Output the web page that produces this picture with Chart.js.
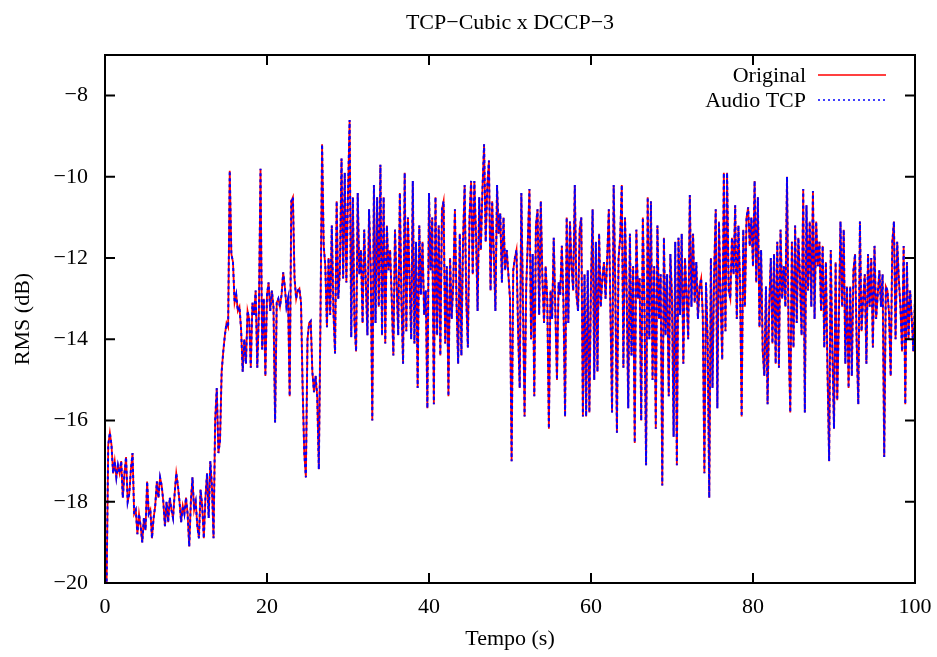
<!DOCTYPE html>
<html>
<head>
<meta charset="utf-8">
<script src="https://cdn.jsdelivr.net/npm/chart.js@4.4.1/dist/chart.umd.min.js"></script>
<style>
html,body{margin:0;padding:0;background:#fff;}
canvas{display:block;}
</style>
</head>
<body>
<canvas id="c" width="937" height="657"></canvas>
<script>
// ---- Data ----
const chartTitle = "TCP\u2212Cubic x DCCP\u22123";
const xTitle = "Tempo (s)";
const yTitle = "RMS (dB)";
const seriesNames = ["Original", "Audio TCP"];
const seriesColors = ["#ff0000", "#0000ff"];
const timeStep = 0.2; // seconds between samples
const xTicks = [0, 20, 40, 60, 80, 100];
const yTicks = [-20, -18, -16, -14, -12, -10, -8];

// RMS values (dB), one sample every 0.2 s, from 0 s to 100 s
const rms = [
  -19.9,-20.0,-16.6,-16.3,-16.6,   -17.3,-17.0,-17.4,-17.1,-17.3,
  -17.0,-17.9,-17.3,-16.9,-18.0,   -17.8,-17.2,-16.8,-18.3,-18.2,
  -18.8,-18.3,-18.6,-19.0,-18.4,   -18.7,-17.5,-18.3,-18.2,-18.9,
  -18.4,-18.1,-17.5,-17.9,-17.4,   -17.6,-18.0,-18.6,-18.0,-18.5,
  -17.9,-18.2,-18.4,-17.8,-17.3,   -17.6,-18.0,-18.5,-18.1,-18.3,
  -17.9,-18.3,-19.1,-18.0,-17.4,   -18.2,-18.0,-18.6,-18.9,-17.7,
  -18.1,-18.9,-17.9,-17.3,-18.4,   -17.0,-17.6,-18.9,-16.0,-15.2,
  -16.8,-16.5,-14.8,-14.3,-13.9,   -13.6,-13.7,-9.85,-11.9,-12.1,
  -13.1,-12.9,-13.3,-13.2,-13.75,  -14.8,-14.0,-14.6,-13.3,-13.5,
  -14.7,-13.1,-13.4,-12.8,-14.7,   -13.3,-9.8,-14.25,-13.0,-14.9,
  -12.9,-12.6,-13.3,-12.8,-13.2,   -16.05,-13.1,-13.0,-13.2,-12.9,
  -12.35,-12.7,-13.2,-13.0,-15.4,  -10.6,-10.5,-12.5,-13.0,-12.8,
  -12.75,-13.1,-15.2,-16.8,-17.4,  -14.0,-13.6,-13.55,-14.8,-15.3,
  -14.9,-15.4,-17.2,-13.5,-9.2,    -11.7,-12.2,-13.7,-12.0,-13.4,
  -11.2,-13.3,-14.35,-10.6,-13.0,  -12.3,-9.55,-12.5,-9.9,-12.6,
  -10.4,-8.6,-13.95,-10.5,-13.6,   -14.3,-10.4,-12.4,-11.8,-13.6,
  -11.3,-12.6,-13.9,-10.8,-12.2,   -16.0,-10.2,-13.6,-10.5,-13.2,
  -9.7,-13.9,-10.5,-14.1,-11.2,    -12.3,-11.8,-13.0,-14.4,-11.3,
  -12.6,-13.9,-10.4,-13.1,-14.6,   -9.9,-13.8,-11.0,-12.5,-14.0,
  -10.1,-14.1,-11.6,-15.2,-11.2,   -12.9,-11.6,-13.4,-12.8,-15.7,
  -10.4,-12.3,-11.0,-15.6,-10.5,   -13.9,-11.2,-14.4,-10.8,-10.6,
  -14.1,-12.2,-15.4,-12.0,-13.5,   -12.6,-10.8,-13.1,-14.6,-11.4,
  -14.4,-11.6,-10.2,-13.0,-14.2,   -11.0,-10.1,-12.4,-10.1,-11.4,
  -13.3,-10.5,-11.8,-10.3,-9.2,    -11.6,-10.2,-9.6,-12.8,-10.6,
  -11.9,-13.3,-10.2,-11.4,-10.9,   -12.6,-11.0,-12.3,-11.8,-12.4,
  -13.0,-17.0,-12.3,-12.0,-11.8,   -13.8,-15.2,-10.4,-13.1,-15.9,
  -12.7,-11.6,-10.3,-14.0,-11.9,   -15.4,-11.2,-10.8,-13.4,-10.6,
  -12.5,-13.6,-12.2,-13.0,-16.2,   -12.8,-13.5,-11.5,-13.3,-15.0,
  -12.6,-12.9,-11.7,-13.1,-15.9,   -11.0,-13.6,-11.1,-12.2,-12.8,
  -10.2,-12.9,-13.3,-11.3,-11.0,   -15.9,-12.4,-15.9,-12.3,-15.8,
  -12.6,-10.8,-15.0,-11.6,-14.8,   -11.4,-13.2,-12.5,-12.1,-13.0,
  -12.0,-10.8,-13.3,-15.8,-10.2,   -12.7,-16.3,-12.0,-11.5,-10.2,
  -14.7,-11.0,-12.8,-15.7,-11.4,   -14.4,-12.2,-16.55,-11.3,-13.0,
  -12.5,-16.0,-11.0,-13.2,-17.1,   -10.5,-14.0,-10.6,-15.0,-12.2,
  -16.2,-11.2,-13.5,-12.4,-17.6,   -11.5,-13.9,-12.4,-15.4,-11.9,
  -13.0,-16.4,-11.6,-17.1,-11.5,   -13.4,-11.4,-14.6,-12.0,-12.9,
  -14.0,-10.45,-13.2,-11.4,-13.1,  -12.1,-13.5,-12.7,-12.5,-13.4,
  -17.3,-12.6,-14.0,-17.9,-12.0,   -15.2,-12.4,-10.8,-15.7,-11.1,
  -13.0,-14.5,-9.9,-13.8,-9.9,     -12.8,-13.0,-11.5,-12.4,-10.7,
  -13.5,-11.2,-12.6,-15.9,-11.3,   -13.2,-11.0,-10.75,-11.7,-11.0,
  -12.2,-10.1,-12.6,-10.5,-13.7,   -11.8,-14.3,-14.9,-12.7,-15.6,
  -13.2,-12.0,-14.1,-11.9,-14.6,   -11.6,-14.7,-11.3,-13.0,-12.2,
  -13.2,-10.0,-14.0,-15.8,-11.6,   -14.2,-11.2,-13.6,-11.5,-12.5,
  -13.9,-10.3,-15.8,-10.7,-12.8,   -11.1,-13.2,-10.35,-13.5,-11.1,
  -12.2,-11.6,-13.3,-11.7,-14.2,   -12.1,-14.8,-17.0,-11.8,-14.3,
  -16.2,-12.1,-15.5,-13.5,-11.1,   -13.2,-11.3,-14.6,-12.7,-15.2,
  -12.7,-14.9,-12.3,-11.9,-14.1,   -15.6,-11.1,-13.8,-13.0,-12.4,
  -14.6,-11.9,-13.2,-12.0,-14.2,   -11.7,-13.5,-12.9,-12.3,-13.2,
  -12.4,-16.9,-12.7,-12.8,-13.4,   -14.9,-11.6,-11.1,-14.0,-11.6,
  -12.5,-13.2,-14.3,-11.7,-15.6,   -12.1,-14.0,-12.8,-13.5,-14.3,
  -13.0
];

// ---- Build library data from arrays ----
const points = rms.map((v, i) => ({ x: +(i * timeStep).toFixed(2), y: v }));
const fontFam = '"Liberation Serif", "Times New Roman", serif';
const fmt = v => (v < 0 ? '\u2212' + Math.abs(v) : String(v));

const framePlugin = {
  id: 'frame',
  afterDatasetsDraw(chart) {
    const { ctx, chartArea: a, scales } = chart;
    ctx.save();
    ctx.strokeStyle = '#000';
    ctx.lineWidth = 2;
    ctx.lineCap = 'butt';
    ctx.strokeRect(a.left, a.top, a.right - a.left, a.bottom - a.top);
    const tl = 10;
    ctx.beginPath();
    xTicks.forEach(v => {
      const px = scales.x.getPixelForValue(v);
      ctx.moveTo(px, a.bottom); ctx.lineTo(px, a.bottom - tl);
      ctx.moveTo(px, a.top); ctx.lineTo(px, a.top + tl);
    });
    yTicks.forEach(v => {
      const py = scales.y.getPixelForValue(v);
      ctx.moveTo(a.left, py); ctx.lineTo(a.left + tl, py);
      ctx.moveTo(a.right, py); ctx.lineTo(a.right - tl, py);
    });
    ctx.stroke();

    // titles
    ctx.fillStyle = '#000';
    ctx.font = '22px ' + fontFam;
    ctx.textAlign = 'center';
    ctx.textBaseline = 'middle';
    ctx.fillText(chartTitle, (a.left + a.right) / 2, 23);
    ctx.fillText(xTitle, (a.left + a.right) / 2, 639);
    ctx.save();
    ctx.translate(23, (a.top + a.bottom) / 2);
    ctx.rotate(-Math.PI / 2);
    ctx.fillText(yTitle, 0, 0);
    ctx.restore();

    // legend
    const rows = [76, 101];
    chart.data.datasets.forEach((ds, i) => {
      const y = rows[i];
      ctx.textAlign = 'right';
      ctx.fillStyle = '#000';
      ctx.fillText(ds.label, 806, y);
      ctx.beginPath();
      ctx.strokeStyle = ds.borderColor;
      ctx.lineWidth = 1.5;
      ctx.setLineDash(ds.borderDash ? [2, 3] : []);
      ctx.moveTo(818, y - 1);
      ctx.lineTo(886, y - 1);
      ctx.stroke();
      ctx.setLineDash([]);
    });
    ctx.restore();
  }
};

new Chart(document.getElementById('c'), {
  type: 'line',
  data: {
    datasets: [
      { label: seriesNames[0], data: points, borderColor: seriesColors[0], borderWidth: 1.8,
        pointRadius: 0, tension: 0, fill: false, order: 2 },
      { label: seriesNames[1], data: points, borderColor: seriesColors[1], borderWidth: 2,
        borderDash: [3, 3], pointRadius: 0, tension: 0, fill: false, order: 1 }
    ]
  },
  options: {
    responsive: false,
    animation: false,
    devicePixelRatio: 1,
    layout: { padding: { top: 55, right: 22, left: 0, bottom: 0 } },
    plugins: { legend: { display: false }, title: { display: false }, tooltip: { enabled: false } },
    scales: {
      x: {
        type: 'linear', min: 0, max: 100,
        afterBuildTicks: s => { s.ticks = xTicks.map(v => ({ value: v })); },
        afterFit: s => { s.height = 74; s.paddingLeft = 0; s.paddingRight = 0; },
        grid: { display: false, drawTicks: false },
        border: { display: false },
        ticks: { color: '#000', font: { family: fontFam, size: 22 }, padding: 11, callback: fmt, maxRotation: 0 }
      },
      y: {
        type: 'linear', min: -20, max: -7,
        afterBuildTicks: s => { s.ticks = yTicks.map(v => ({ value: v })); },
        afterFit: s => { s.width = 105; s.paddingTop = 0; s.paddingBottom = 0; },
        grid: { display: false, drawTicks: false },
        border: { display: false },
        ticks: { color: '#000', font: { family: fontFam, size: 22 }, padding: 17, callback: fmt }
      }
    }
  },
  plugins: [framePlugin]
});
</script>
</body>
</html>
